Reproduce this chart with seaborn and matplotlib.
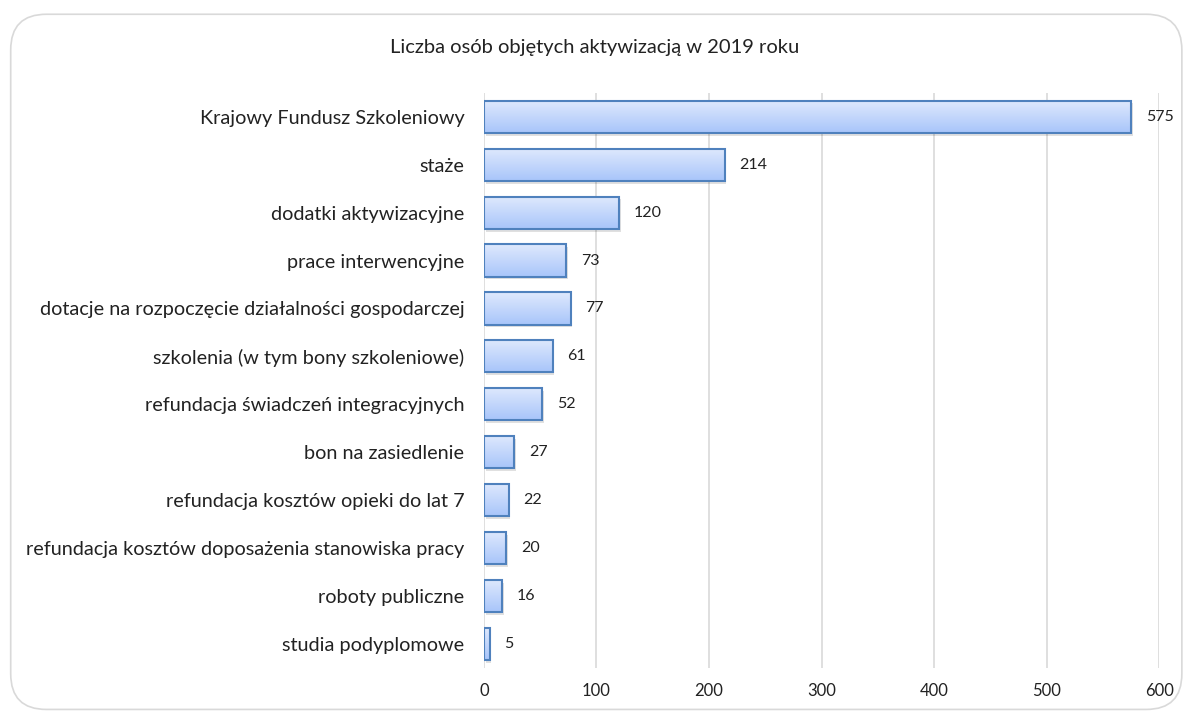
import numpy as np
import pandas as pd
import matplotlib
matplotlib.use("Agg")
import matplotlib.pyplot as plt
import seaborn as sns
from matplotlib.patches import FancyBboxPatch, Rectangle
from matplotlib.colors import LinearSegmentedColormap

categories = [
    "Krajowy Fundusz Szkoleniowy",
    "staże",
    "dodatki aktywizacyjne",
    "prace interwencyjne",
    "dotacje na rozpoczęcie działalności gospodarczej",
    "szkolenia (w tym bony szkoleniowe)",
    "refundacja świadczeń integracyjnych",
    "bon na zasiedlenie",
    "refundacja kosztów opieki do lat 7",
    "refundacja kosztów doposażenia stanowiska pracy",
    "roboty publiczne",
    "studia podyplomowe",
]
values = [575, 214, 120, 73, 77, 61, 52, 27, 22, 20, 16, 5]
xticks = [0, 100, 200, 300, 400, 500, 600]
title = "Liczba osób objętych aktywizacją w 2019 roku"

df = pd.DataFrame({"kategoria": categories, "liczba": values})

sns.set_theme(style="white")
plt.rcParams["font.family"] = ["Lato", "DejaVu Sans"]

fig = plt.figure(figsize=(11.89, 7.13), dpi=100)
# rounded chart frame
frame = FancyBboxPatch((0.009, 0.005), 0.985, 0.975, boxstyle="round,pad=0,rounding_size=0.03",
                       transform=fig.transFigure, facecolor="none", edgecolor="#d9d9d9",
                       linewidth=1.2, mutation_aspect=1189 / 713, zorder=-1)
fig.patches.append(frame)

ax = fig.add_axes([0.407, 0.063, 0.568, 0.807])
ax.set_facecolor("none")

sns.barplot(data=df, y="kategoria", x="liczba", orient="h", ax=ax, width=0.67,
            color="#c5d9fc", edgecolor="#4f81bd", linewidth=1.5, zorder=3)

# light at top, darker at bottom
grad_cmap = LinearSegmentedColormap.from_list("g", ["#dfe9fd", "#a8c5fa"])
grad = np.linspace(0, 1, 100).reshape(-1, 1)
for bar in list(ax.patches):
    x0, y0 = bar.get_x(), bar.get_y()
    w, h = bar.get_width(), bar.get_height()
    # soft shadow
    ax.add_patch(Rectangle((x0 + 1.5, y0 + 0.06), w, h, facecolor="#000000", alpha=0.12,
                           edgecolor="none", zorder=2))
    bar.set_facecolor("none")
    im = ax.imshow(grad, extent=(x0, x0 + w, y0 + h, y0), origin="upper", cmap=grad_cmap,
                   aspect="auto", zorder=2.5)
    im.set_clip_path(bar)
    ax.text(x0 + w + 13, y0 + h / 2, f"{int(w)}", va="center", ha="left", fontsize=11.5,
            color="#222222")

ax.set_xlim(0, 600)
ax.set_ylim(11.5, -0.5)
ax.set_xticks(xticks)
ax.set_xticklabels([str(t) for t in xticks], fontsize=12, color="#222222")
ax.tick_params(axis="y", labelsize=14.3, colors="#222222", length=0, pad=14)
ax.tick_params(axis="x", length=0, pad=11)
ax.xaxis.grid(True, color="#d9d9d9", linewidth=1.2, zorder=0)
ax.set_axisbelow(True)
for s in ax.spines.values():
    s.set_visible(False)
ax.set_xlabel("")
ax.set_ylabel("")

fig.text(0.5, 0.933, title, ha="center", va="center", fontsize=14.5, color="#222222")

fig.savefig("out.png", dpi=100)
